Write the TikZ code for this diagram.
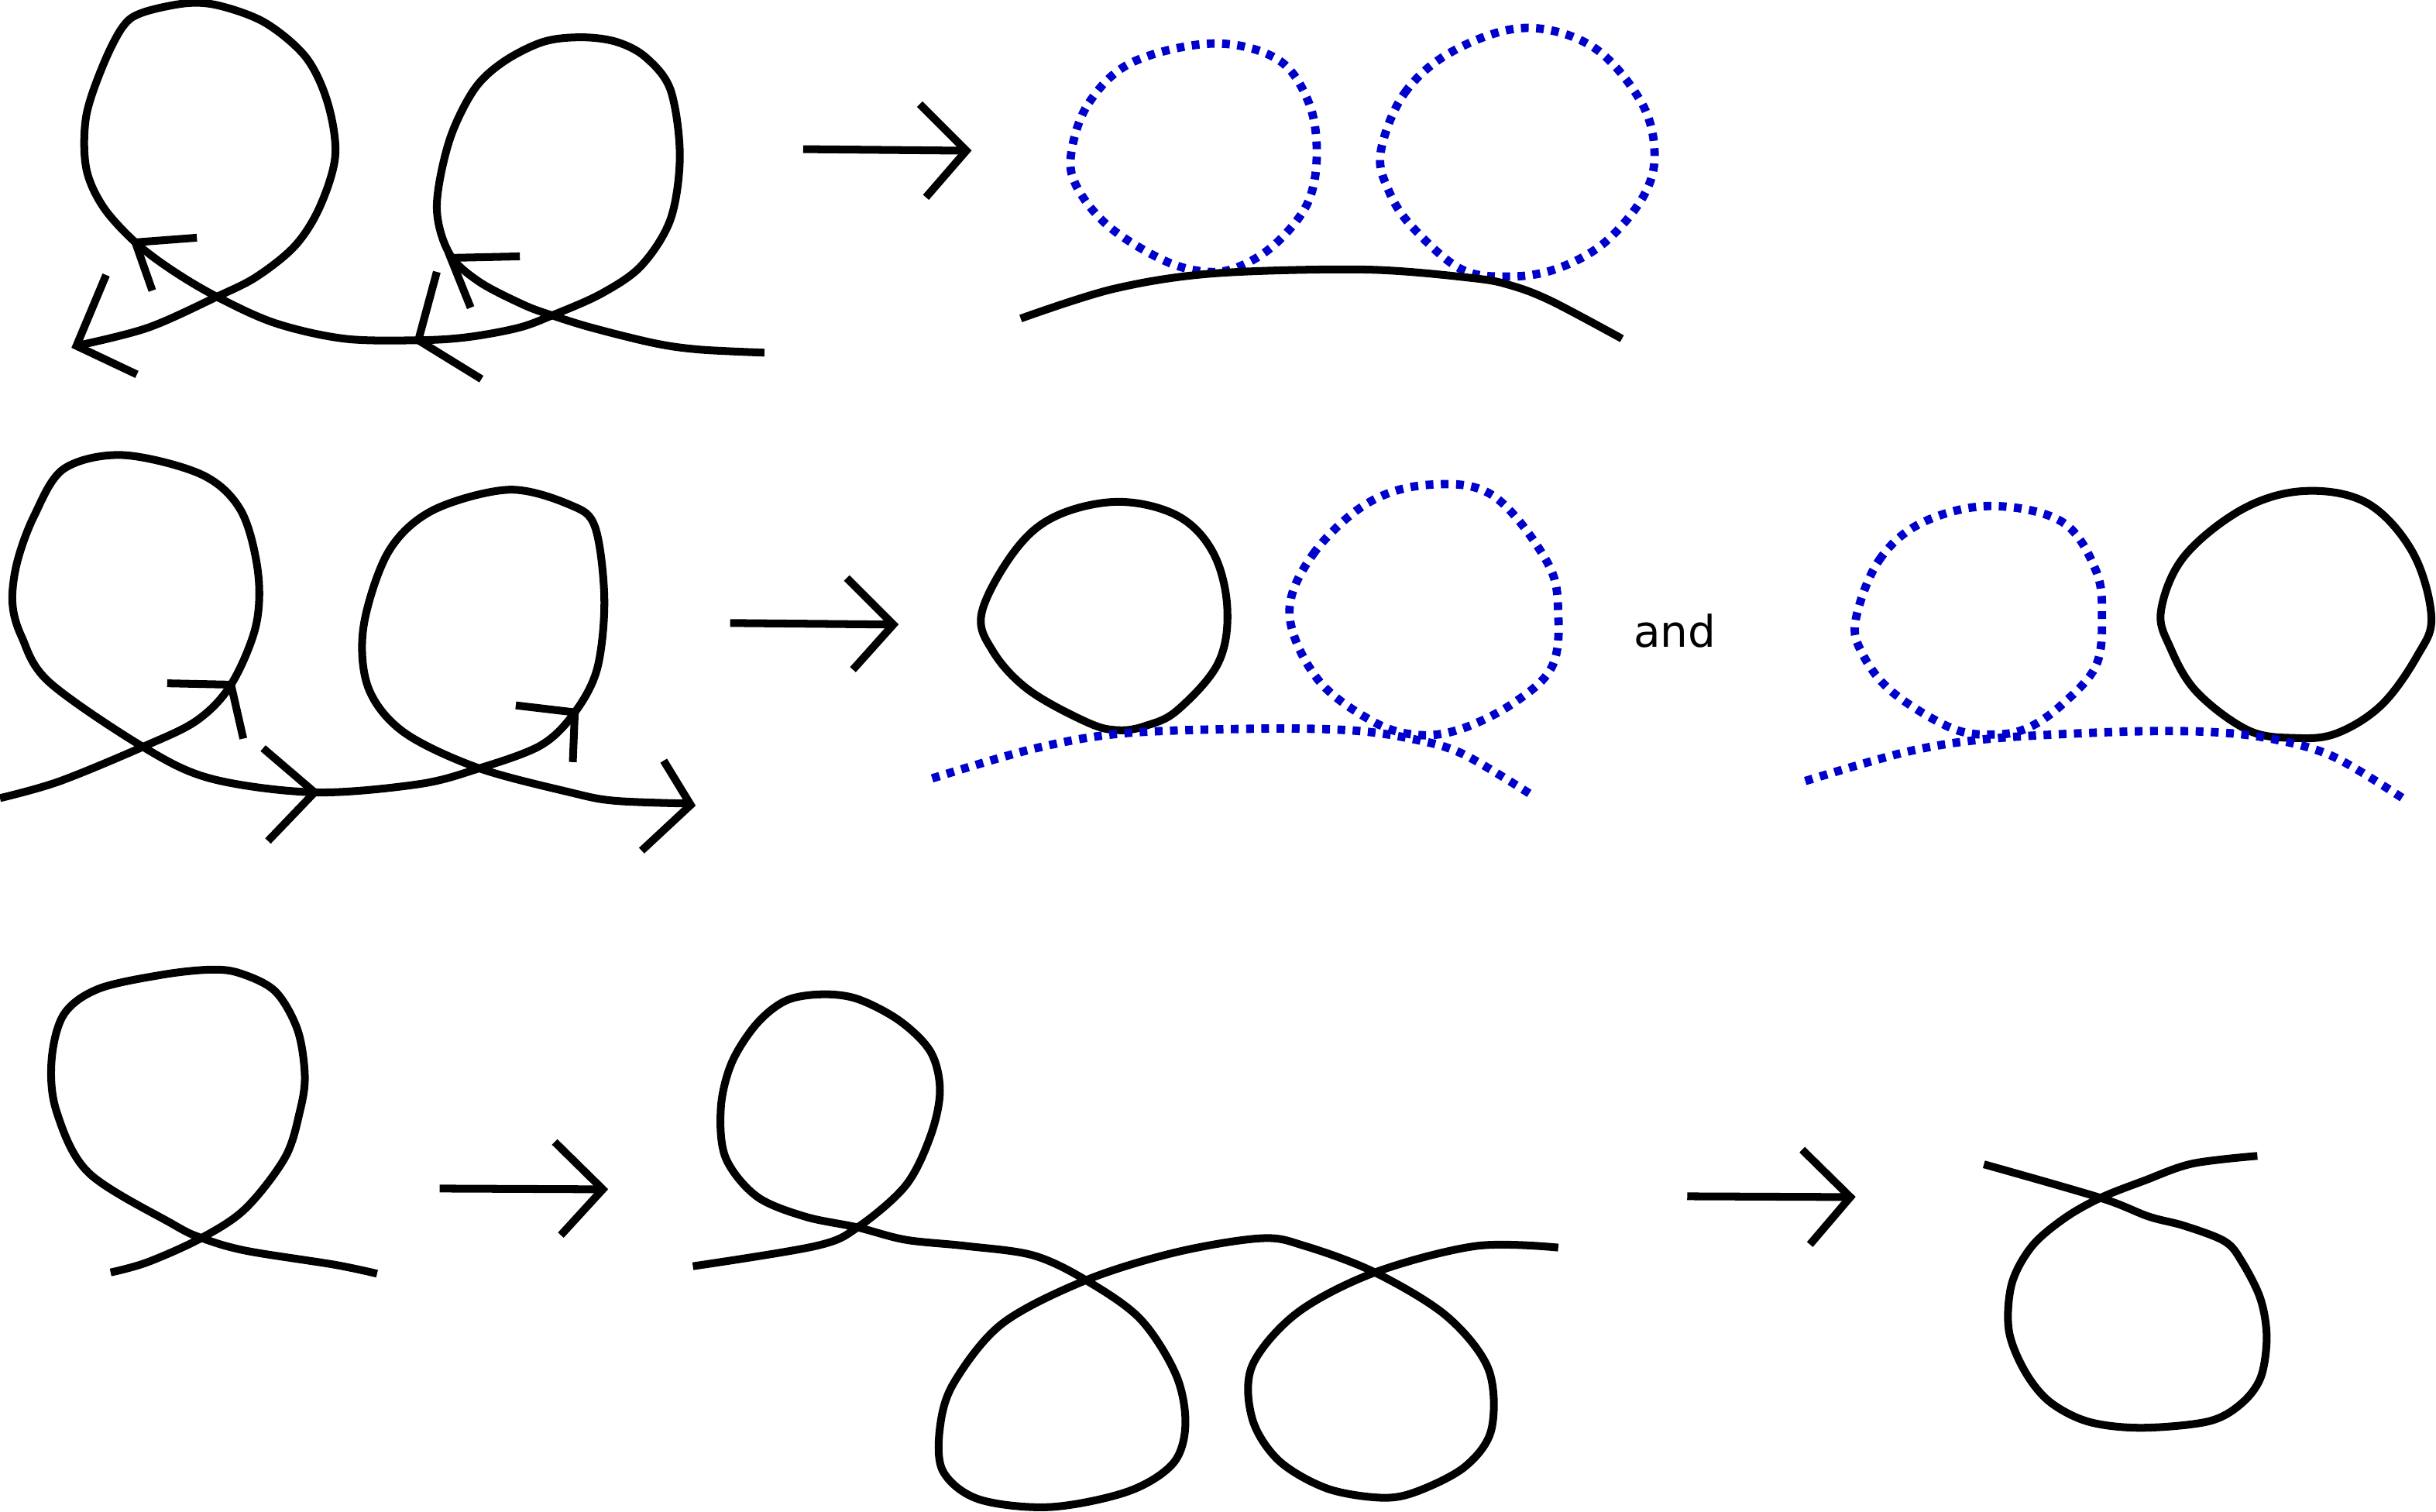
\documentclass[tikz,border=0pt]{standalone}
\usepackage{fontspec}
\setmainfont{DejaVu Sans}
\definecolor{dotblue}{RGB}{0,0,204}
\tikzset{
  blk/.style={line width=0.25cm, black, line join=round},
  barb/.style={line width=0.25cm, black, line join=miter},
  bld/.style={line width=0.27cm, dotblue, dash pattern=on 0.25cm off 0.24cm},
}
\begin{document}
\begin{tikzpicture}[x=0.05cm,y=-0.05cm]
\useasboundingbox (0,0) rectangle (1568,973);

% ===== Row 1, left: two loops with arrows =====
\begin{scope}[xscale=0.99]
\draw[blk] plot[smooth, tension=0.55] coordinates {
 (49.7,222.6) (96,211) (141,191) (167,178) (192,158) (208,133) (218,100)
 (213,66) (199,37) (173,15) (144,4) (122,2) (93,8) (80,17) (67,42) (56,75)
 (56,108) (67,133) (88,156) (112,174) (141,191) (179,208) (224,218) (272,219)
 (304,217) (337,211) (359,203) (391,189) (417,171) (436,141) (442,100) (436,58)
 (420,37) (401,27) (378,24) (353,27) (327,40) (308,58) (292,91) (284,133)
 (292,163) (311,181) (340,196) (359,203) (385,211) (426,221) (455,225) (497,227)};
\coordinate (a1t) at (88,156);   \coordinate (a1p) at (128,153); \coordinate (a1q) at (99,187);
\coordinate (a2t) at (49.7,222.6); \coordinate (a2p) at (69,177); \coordinate (a2q) at (89,241);
\coordinate (a3t) at (293,166);  \coordinate (a3p) at (338,165); \coordinate (a3q) at (306,198);
\coordinate (a4t) at (272,219);  \coordinate (a4p) at (284,175); \coordinate (a4q) at (313,244);
\draw[barb] (a1p) -- (a1t) -- (a1q);
\draw[barb] (a2p) -- (a2t) -- (a2q);
\draw[barb] (a3p) -- (a3t) -- (a3q);
\draw[barb] (a4p) -- (a4t) -- (a4q);
\end{scope}

% Row 1 big arrow
\coordinate (r1s) at (517,96); \coordinate (r1t) at (622,97);
\coordinate (r1p) at (592,67); \coordinate (r1q) at (596,127);
\draw[blk] (r1s) -- (r1t);
\draw[barb] (r1p) -- (r1t) -- (r1q);

% Row 1, right
\draw[bld] plot[smooth cycle, tension=0.6] coordinates {
 (689.6,98) (701,66) (729,40) (780.8,28) (822,38) (842,65) (847.6,98)
 (842,130) (822,156) (799,171) (778,175) (750,168) (714,146) (693,120)};
\draw[bld] plot[smooth cycle, tension=0.6] coordinates {
 (888.7,98) (904,60) (935,33) (981,18) (1025,30) (1056,65) (1065,98)
 (1058,126) (1033,156) (1002,173) (971,178) (940,173) (909,146) (894,123)};
\draw[blk] plot[smooth, tension=0.55] coordinates {
 (657,205) (716.5,186) (781,176) (878.5,173.5) (948,179) (973.5,184) (999,194) (1044,218)};

% ===== Row 2, left =====
\draw[blk] plot[smooth, tension=0.55] coordinates {
 (0,513.7) (38,503) (92,480.7) (126.6,463.8) (148.7,440.7) (164.6,403.3)
 (166,367.7) (155,328.5) (129.7,305.4) (79,292.9) (41,301.8) (22,332)
 (11,362) (8,388) (14,410) (31.6,439) (92,480.7) (136,501.2) (202.5,510)
 (269,504.8) (307,495) (348,479.8) (370,458.5) (384.5,430) (389,385.5)
 (383,339.2) (367,325) (327.5,315.2) (278.5,328.5) (250,355.2) (234,403.3)
 (237,442.5) (259.5,471) (307,494) (367,510) (395.6,515.4) (443,517.2)};
\coordinate (b1t) at (148.7,440.7); \coordinate (b1p) at (107.6,439.8); \coordinate (b1q) at (156.6,475.4);
\coordinate (b2t) at (202.5,510);   \coordinate (b2p) at (169.3,481.6); \coordinate (b2q) at (172.5,541.3);
\coordinate (b3t) at (370,458.5);   \coordinate (b3p) at (332,454);     \coordinate (b3q) at (368.7,490.5);
\coordinate (b4t) at (444.6,518.1); \coordinate (b4p) at (427.2,489.6); \coordinate (b4q) at (413,547.5);
\draw[barb] (b1p) -- (b1t) -- (b1q);
\draw[barb] (b2p) -- (b2t) -- (b2q);
\draw[barb] (b3p) -- (b3t) -- (b3q);
\draw[barb] (b4p) -- (b4t) -- (b4q);

% Row 2 big arrow
\coordinate (r2s) at (470,401); \coordinate (r2t) at (575,402);
\coordinate (r2p) at (545,372); \coordinate (r2q) at (549,431);
\draw[blk] (r2s) -- (r2t);
\draw[barb] (r2p) -- (r2t) -- (r2q);

% Row 2, middle
\draw[blk] plot[smooth cycle, tension=0.6] coordinates {
 (632,394) (653.6,354) (680,332) (720,323) (758,332) (781,356) (790,392)
 (784,427) (758,457) (738,467) (720,470) (700,465) (662,444) (639,419)};
\draw[bld] plot[smooth cycle, tension=0.6] coordinates {
 (830,395) (845,357) (880,324) (920,312) (961,319) (996,362) (1003,395)
 (999,429) (975,452) (941,469) (912,473) (883,464) (848,437)};
\draw[bld] plot[smooth, tension=0.55] coordinates {
 (600,501) (665,482) (723,472) (810,469) (868,470) (906,475) (941,485) (988,513)};

\node[font=\fontsize{40}{48}\selectfont, inner sep=0pt] (andtxt) at (1078,406) {and};

% Row 2, right
\draw[bld] plot[smooth cycle, tension=0.6] coordinates {
 (1194.5,398.8) (1209.5,360.6) (1237,336.5) (1280.6,325.7) (1327,335.7)
 (1349,367) (1353,397) (1349,428.7) (1327,453.7) (1305,468.6) (1283,472.8)
 (1256,468.6) (1218,445.4) (1198.6,420.4)};
\draw[blk] plot[smooth cycle, tension=0.6] coordinates {
 (1391,393) (1406,358) (1444,327.4) (1484,316) (1524,324) (1553,355.6) (1565,397)
 (1556,422) (1533,453.7) (1504,472) (1477,475) (1447,470) (1414,445.4) (1397,417)};
\draw[bld] plot[smooth, tension=0.55] coordinates {
 (1162,502.7) (1228.6,483.6) (1283,475.3) (1365,471) (1420,471) (1461,475.3) (1502,487) (1550,516)};

% ===== Row 3, left =====
\draw[blk] plot[smooth, tension=0.55] coordinates {
 (71.2,819) (95,812.4) (129.7,796.8) (158,777.9) (183.5,745) (193,715.4)
 (196.2,692.4) (191.5,662.8) (177.2,638.1) (155,626.6) (136,624.1) (104.4,627.4)
 (63.3,636.5) (41.1,652.9) (33.2,682.5) (36.4,715.4) (57,754.8) (110.8,787.7)
 (129.7,796.8) (158.2,805) (215.2,814) (242.7,819.8)};

% Row 3 arrow 1
\coordinate (r3s) at (283,765); \coordinate (r3t) at (388,765.5);
\coordinate (r3p) at (357,735); \coordinate (r3q) at (361,795);
\draw[blk] (r3s) -- (r3t);
\draw[barb] (r3p) -- (r3t) -- (r3q);

% Row 3, middle
\draw[blk] plot[smooth, tension=0.55] coordinates {
 (446,815) (525,802) (552,790) (583,763) (599,731) (605,702) (599,677)
 (579,657) (552,643) (529,640) (506,644) (487,659) (471,684) (464,713)
 (467,745) (487,770) (518,783) (552,790) (583,798) (622,802) (665,808)
 (699,824) (734,849) (757,885) (763,917) (755,942) (726,960) (676,970)
 (630,965) (607,947) (605,919) (614,890) (645,852) (699,824) (757,806)
 (812,797) (840,802) (885,819) (931,847) (958,881) (960,920) (943,944)
 (912,960) (889,964) (854,958) (823,940) (806,913) (806,879) (835,845)
 (885,819) (950,802) (1003,803)};

% Row 3 arrow 2
\coordinate (r4s) at (1086,770); \coordinate (r4t) at (1191,770.5);
\coordinate (r4p) at (1160,740); \coordinate (r4q) at (1165,801);
\draw[blk] (r4s) -- (r4t);
\draw[barb] (r4p) -- (r4t) -- (r4q);

% Row 3, right
\draw[blk] plot[smooth, tension=0.55] coordinates {
 (1277,749.4) (1352,771) (1383,783) (1406,789) (1432,799) (1443,812)
 (1455,836) (1459,861) (1455,887) (1442,904) (1421,915) (1378,919)
 (1344,915) (1319,902) (1303,882) (1293,856) (1295,826) (1308,802)
 (1329,784) (1352,771) (1380,760) (1411,749) (1453,744)};
\end{tikzpicture}
\end{document}
